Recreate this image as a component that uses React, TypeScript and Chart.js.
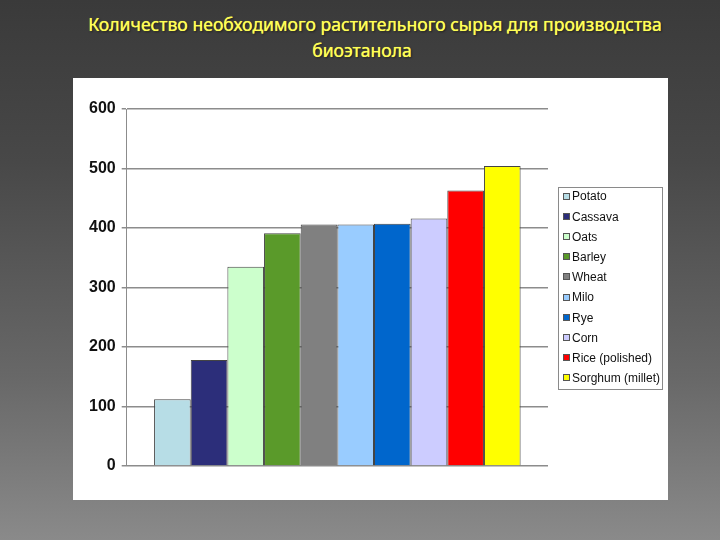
import React, { useEffect, useRef } from "react";
import { Chart, registerables } from "chart.js";

Chart.register(...registerables);

const crops = [
  "Potato",
  "Cassava",
  "Oats",
  "Barley",
  "Wheat",
  "Milo",
  "Rye",
  "Corn",
  "Rice (polished)",
  "Sorghum (millet)",
];
const amounts = [112, 178, 335, 391, 406, 406, 407, 416, 463, 504];
const colors = [
  "#b7dde6",
  "#2c2e7a",
  "#ccffcc",
  "#5a9a2a",
  "#808080",
  "#99ccff",
  "#0066cc",
  "#ccccff",
  "#ff0000",
  "#ffff00",
];
const yTicks = [0, 100, 200, 300, 400, 500, 600];
const titleLines = [
  "Количество необходимого растительного сырья для производства",
  "биоэтанола",
];

// Legend drawn in a box to the right of the plot (Excel style)
const boxedLegend = {
  id: "boxedLegend",
  afterDraw(chart: any) {
    const ctx = chart.ctx;
    const area = chart.chartArea;
    const items = chart.data.datasets.map((d: any) => ({ label: d.label, color: d.backgroundColor }));
    const rowH = 20.2;
    const left = area.right + 10;
    const width = 104;
    const height = rowH * items.length;
    const top = (area.top + area.bottom) / 2 - height / 2;
    ctx.save();
    ctx.strokeStyle = "#8a8a8a";
    ctx.lineWidth = 1;
    ctx.strokeRect(Math.round(left) + 0.5, Math.round(top) + 0.5, width, Math.round(height));
    ctx.font = "12px 'Liberation Sans', Arial, sans-serif";
    ctx.textBaseline = "middle";
    ctx.textAlign = "left";
    items.forEach((it: any, i: number) => {
      const cy = top + rowH * (i + 0.5);
      const bx = Math.round(left + 5);
      const by = Math.round(cy - 4);
      ctx.fillStyle = it.color;
      ctx.fillRect(bx, by, 7, 7);
      ctx.strokeStyle = "#555555";
      ctx.strokeRect(bx + 0.5, by + 0.5, 6, 6);
      ctx.fillStyle = "#111111";
      ctx.fillText(it.label, left + 14, cy + 0.5);
    });
    ctx.restore();
  },
};

function BarChart() {
  const ref = useRef<HTMLCanvasElement | null>(null);
  useEffect(() => {
    if (!ref.current) return;
    const chart = new Chart(ref.current, {
      type: "bar",
      data: {
        labels: [""],
        datasets: crops.map((c, i) => ({
          label: c,
          data: [amounts[i]],
          backgroundColor: colors[i],
          borderColor: "#444444",
          borderWidth: 1,
          categoryPercentage: 0.87,
          barPercentage: 1.0,
        })),
      },
      options: {
        animation: false,
        responsive: false,
        maintainAspectRatio: false,
        layout: { padding: { left: 10, right: 120, top: 31, bottom: 34 } },
        plugins: {
          tooltip: { enabled: false },
          legend: { display: false },
        },
        scales: {
          x: { display: false },
          y: {
            min: 0,
            max: 600,
            afterBuildTicks: (axis: any) => {
              axis.ticks = yTicks.map((v) => ({ value: v }));
            },
            ticks: {
              color: "#111111",
              padding: 6,
              font: { family: "Liberation Sans, Arial, sans-serif", size: 16, weight: "bold" },
            },
            grid: { color: "#8c8c8c", lineWidth: 1.5, tickLength: 5 },
            border: { color: "#8c8c8c", width: 1 },
          },
        },
      },
      plugins: [boxedLegend],
    } as any);
    return () => chart.destroy();
  }, []);
  return <canvas ref={ref} width={595} height={422} style={{ display: "block" }} />;
}

export default function App() {
  const titleStyle: React.CSSProperties = {
    position: "absolute",
    left: 60,
    textAlign: "center",
    color: "#ffff55",
    fontSize: 17.6,
    lineHeight: "26px",
    whiteSpace: "nowrap",
    textShadow: "0 0 0.7px #ffff55, 1px 1px 2px rgba(0,0,0,0.6)",
  };
  return (
    <div
      style={{
        position: "fixed",
        left: 0,
        top: 0,
        width: 720,
        height: 540,
        overflow: "hidden",
        background: "linear-gradient(to bottom, #3a3a3a 0%, #484848 30%, #686868 70%, #8a8a8a 100%)",
        fontFamily: "'Noto Sans', sans-serif",
      }}
    >
      <div style={{ ...titleStyle, width: 630, top: 11 }}>{titleLines[0]}</div>
      <div style={{ ...titleStyle, width: 604, top: 37 }}>{titleLines[1]}</div>
      <div
        style={{
          position: "absolute",
          left: 73,
          top: 78,
          width: 595,
          height: 422,
          background: "#ffffff",
        }}
      >
        <BarChart />
      </div>
    </div>
  );
}
